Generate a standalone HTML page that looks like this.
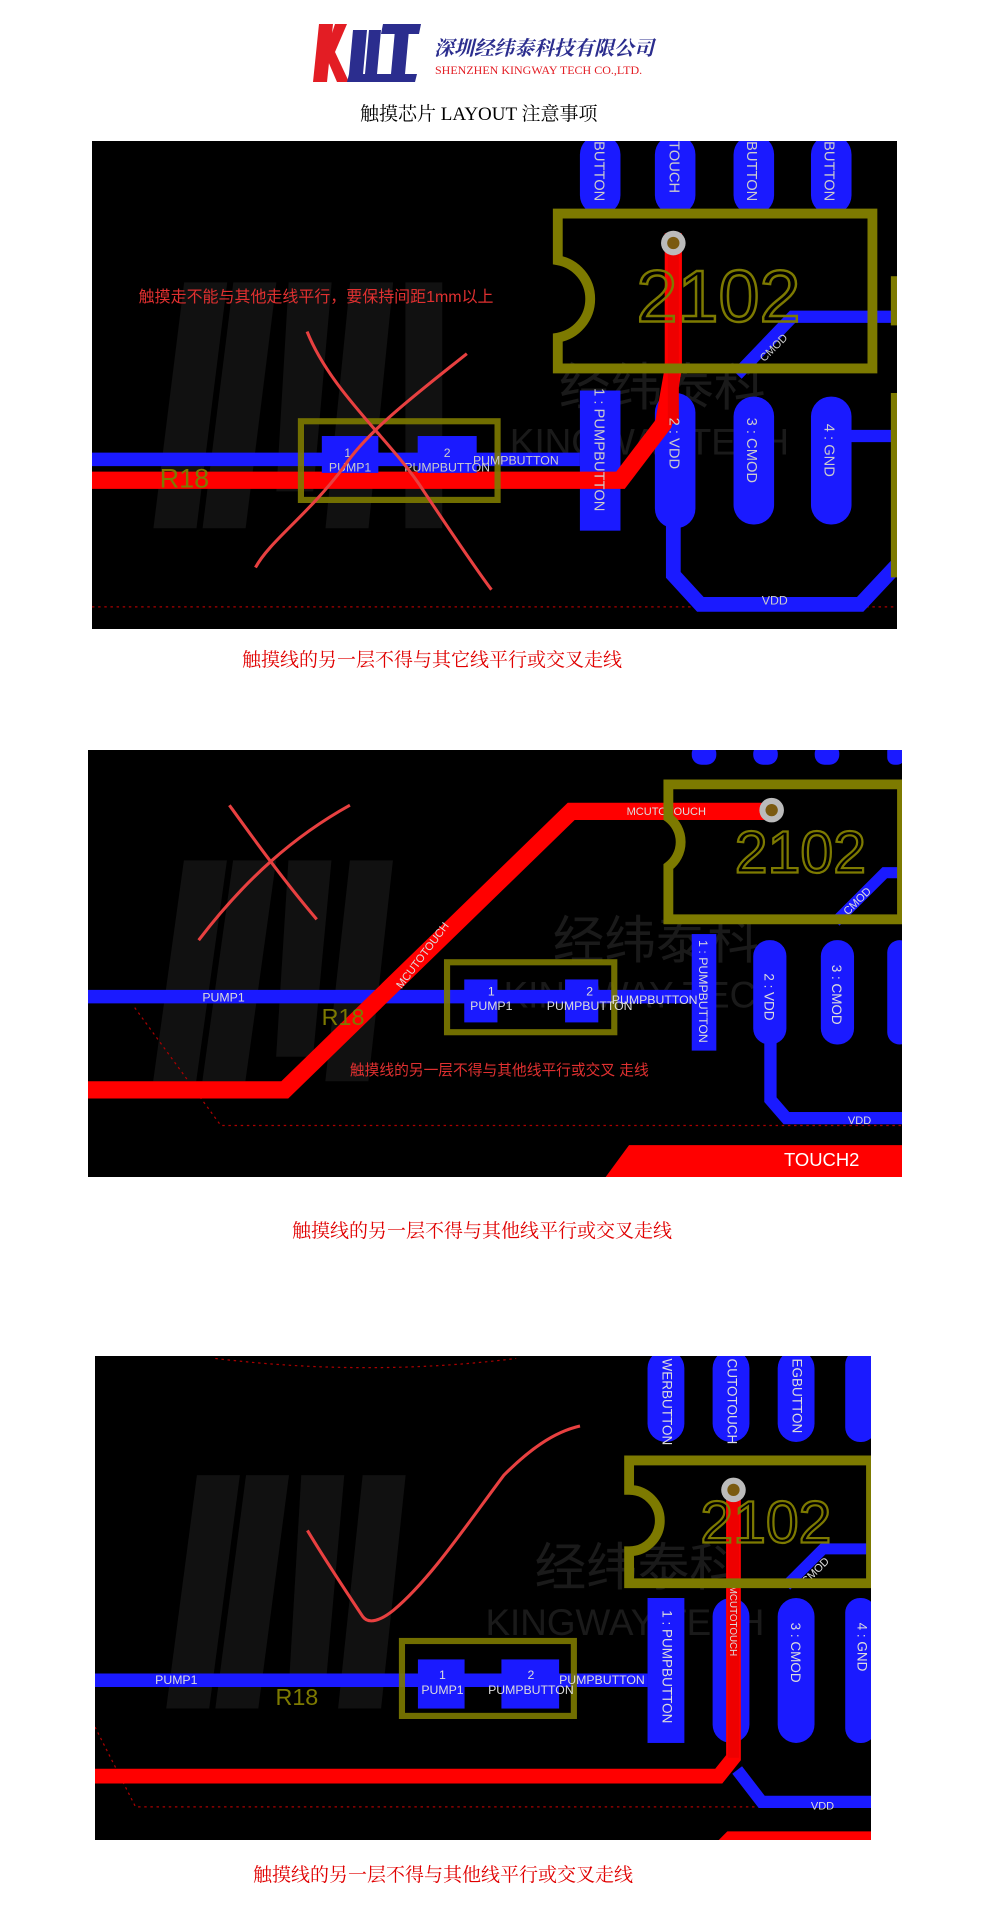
<!DOCTYPE html>
<html><head><meta charset="utf-8"><style>
html,body{margin:0;padding:0;background:#fff;}
body{width:1008px;height:1924px;position:relative;overflow:hidden;font-family:"Liberation Sans","Noto Sans CJK SC",sans-serif;}
.abs{position:absolute;}
.cap{position:absolute;color:#e00000;font-family:"Liberation Serif","Noto Serif CJK SC",serif;font-size:19px;white-space:nowrap;}
svg text{font-family:"Liberation Sans","Noto Sans CJK SC",sans-serif;}
</style></head><body>

<!-- logo -->
<svg class="abs" style="left:313px;top:22px" width="110" height="62" viewBox="0 0 110 62">
<polygon points="6,2 20,2 14,60 0,60" fill="#e31d24"/>
<polygon points="22,2 34,2 22,30 36,60 24,60 12,32" fill="#e31d24"/>
<polygon points="40,8 54,8 50,52 36,52" fill="#2b2d8e"/>
<polygon points="56,8 68,8 64,52 52,52" fill="#2b2d8e"/>
<polygon points="36,52 104,52 102,60 34,60" fill="#2b2d8e"/>
<polygon points="70,2 108,2 106,12 68,12" fill="#2b2d8e"/>
<polygon points="82,8 96,8 92,52 78,52" fill="#2b2d8e"/>
</svg>
<div class="abs" style="left:434px;top:32px;font-family:'Noto Serif CJK SC',serif;font-size:20px;color:#2b2d8e;font-style:italic;font-weight:bold;">深圳经纬泰科技有限公司</div>
<div class="abs" style="left:435px;top:63px;font-family:'Liberation Serif',serif;font-size:12px;color:#e31d24;">SHENZHEN KINGWAY TECH CO.,LTD.</div>
<div class="abs" style="left:360px;top:99px;font-family:'Liberation Serif','Noto Serif CJK SC',serif;font-size:19px;color:#000;">触摸芯片 LAYOUT 注意事项</div>

<!-- Panel 1 -->
<svg class="abs" style="left:92px;top:141px" width="805" height="488" viewBox="75 115 655 397" preserveAspectRatio="none">
<rect x="75" y="115" width="655" height="397" fill="#000"/>
<g opacity="0.12" fill="#888"><polygon points="150,230 185,230 160,430 125,430"/><polygon points="190,230 225,230 200,430 165,430"/><polygon points="235,230 270,230 255,400 225,400"/><polygon points="285,230 320,230 300,430 265,430"/><rect x="330" y="230" width="30" height="200"/></g>
<text x="455" y="330" font-size="42" fill="#fff" opacity="0.1" font-family="Noto Serif CJK SC">经纬泰科</text>
<text x="415" y="370" font-size="30" fill="#fff" opacity="0.1" font-family="Liberation Serif">KINGWAY TECH</text>
<line x1="75" y1="494" x2="730" y2="494" stroke="#a00" stroke-width="1" stroke-dasharray="2,3"/>
<g fill="#1a1aff">
<rect x="472" y="110" width="33" height="65" rx="16"/><rect x="533" y="110" width="33" height="65" rx="16"/><rect x="597" y="110" width="33" height="65" rx="16"/><rect x="660" y="110" width="33" height="65" rx="16"/>
<rect x="472" y="318" width="33" height="114"/><rect x="533" y="320" width="33" height="110" rx="16"/><rect x="597" y="323" width="33" height="104" rx="16"/><rect x="660" y="323" width="33" height="104" rx="16"/>
</g>
<polyline points="548,425 548,468 570,492 700,492 730,460" fill="none" stroke="#1a1aff" stroke-width="12"/>
<polyline points="600,305 645,258 730,258" fill="none" stroke="#1a1aff" stroke-width="10"/>
<line x1="690" y1="355" x2="730" y2="355" stroke="#1a1aff" stroke-width="10"/>
<line x1="75" y1="374" x2="472" y2="374" stroke="#1a1aff" stroke-width="11"/>
<polyline points="75,391 505,391 540,345 548,300 548,190" fill="none" stroke="#f00" stroke-width="14"/>
<line x1="548" y1="190" x2="548" y2="345" stroke="#e00" stroke-width="9"/>
<rect x="262" y="355" width="46" height="30" fill="#1a1aff"/><rect x="340" y="355" width="48" height="30" fill="#1a1aff"/>
<rect x="245" y="343" width="160" height="64" fill="none" stroke="#7d7a00" stroke-width="5" opacity="0.9"/>
<text x="130" y="397" font-size="22" fill="#7d7a00">R18</text>
<g fill="#ccc" font-size="10"><text x="283" y="372" text-anchor="middle">1</text><text x="285" y="384" text-anchor="middle">PUMP1</text><text x="364" y="372" text-anchor="middle">2</text><text x="364" y="384" text-anchor="middle">PUMPBUTTON</text><text x="385" y="378">PUMPBUTTON</text>
<text x="620" y="492">VDD</text></g>
<path d="M454,174 H710 V300 H454 V275 A32,32 0 0 0 454,212 Z" fill="none" stroke="#7d7a00" stroke-width="8"/>
<text x="518" y="262" font-size="60" fill="none" stroke="#7d7a00" stroke-width="2">2102</text>
<rect x="725" y="225" width="8" height="40" fill="#7d7a00"/><rect x="725" y="320" width="8" height="150" fill="#7d7a00"/>
<circle cx="548" cy="198" r="10" fill="#bbb"/><circle cx="548" cy="198" r="5" fill="#7a5a10"/>
<g fill="#ccc" font-size="12"><text transform="translate(484,316) rotate(90)">1 : PUMPBUTTON</text><text transform="translate(545,340) rotate(90)">2 : VDD</text><text transform="translate(608,340) rotate(90)">3 : CMOD</text><text transform="translate(671,345) rotate(90)">4 : GND</text>
<text transform="translate(484,115) rotate(90)">BUTTON</text><text transform="translate(545,115) rotate(90)">TOUCH</text><text transform="translate(608,115) rotate(90)">BUTTON</text><text transform="translate(671,115) rotate(90)">BUTTON</text>
<text transform="translate(622,295) rotate(-45)" font-size="9">CMOD</text></g>
<text x="113" y="246" font-size="13" fill="#e03030" font-family="Noto Sans CJK SC">触摸走不能与其他走线平行，要保持间距1mm以上</text>
<path d="M250,270 C270,320 320,360 345,400 C365,430 385,460 400,480" fill="none" stroke="#e84040" stroke-width="2.5"/>
<path d="M380,288 C340,320 300,350 280,380 C250,420 220,440 208,462" fill="none" stroke="#e84040" stroke-width="2.5"/>
</svg>
<div class="cap" style="left:242px;top:645px">触摸线的另一层不得与其它线平行或交叉走线</div>

<!-- Panel 2 -->
<svg class="abs" style="left:88px;top:750px" width="814" height="427" viewBox="72 610 662 348" preserveAspectRatio="none">
<rect x="72" y="610" width="662" height="348" fill="#000"/>
<g opacity="0.12" fill="#888"><polygon points="150,700 185,700 160,880 125,880"/><polygon points="190,700 225,700 200,880 165,880"/><polygon points="235,700 270,700 255,860 225,860"/><polygon points="285,700 320,700 300,880 265,880"/></g>
<text x="450" y="780" font-size="42" fill="#fff" opacity="0.1" font-family="Noto Serif CJK SC">经纬泰科</text>
<text x="410" y="820" font-size="30" fill="#fff" opacity="0.1" font-family="Liberation Serif">KINGWAY TECH</text>
<polyline points="110,820 180,916 734,916" fill="none" stroke="#a00" stroke-width="1" stroke-dasharray="2,3"/>
<g fill="#1a1aff">
<rect x="563" y="605" width="20" height="17" rx="8"/><rect x="613" y="605" width="20" height="17" rx="8"/><rect x="663" y="605" width="20" height="17" rx="8"/><rect x="722" y="605" width="14" height="17" rx="6"/>
<rect x="563" y="760" width="20" height="95"/><rect x="613" y="765" width="27" height="85" rx="13"/><rect x="668" y="765" width="27" height="85" rx="13"/><rect x="722" y="765" width="20" height="85" rx="10"/>
</g>
<polyline points="627,848 627,895 640,910 734,910" fill="none" stroke="#1a1aff" stroke-width="10"/>
<polyline points="680,750 720,710 734,710" fill="none" stroke="#1a1aff" stroke-width="9"/>
<line x1="72" y1="811" x2="563" y2="811" stroke="#1a1aff" stroke-width="11"/>
<polyline points="72,887 232,887 465,660 625,660" fill="none" stroke="#f00" stroke-width="14"/>
<polygon points="493,958 512,932 734,932 734,958" fill="#f00"/>
<text x="638" y="949" font-size="15" fill="#fff">TOUCH2</text>
<rect x="378" y="797" width="27" height="35" fill="#1a1aff"/><rect x="460" y="797" width="27" height="35" fill="#1a1aff"/>
<rect x="364" y="783" width="136" height="57" fill="none" stroke="#7d7a00" stroke-width="5" opacity="0.9"/>
<text x="262" y="834" font-size="19" fill="#7d7a00">R18</text>
<g fill="#ddd" font-size="10"><text x="165" y="815">PUMP1</text><text x="400" y="810" text-anchor="middle">1</text><text x="400" y="822" text-anchor="middle">PUMP1</text><text x="480" y="810" text-anchor="middle">2</text><text x="480" y="822" text-anchor="middle">PUMPBUTTON</text><text x="498" y="817">PUMPBUTTON</text>
<text x="510" y="663" font-size="9">MCUTOTOUCH</text><text x="690" y="915" font-size="9">VDD</text>
<text transform="translate(327,805) rotate(-53)" font-size="9">MCUTOTOUCH</text>
<text transform="translate(569,765) rotate(90)" font-size="10">1 : PUMPBUTTON</text><text transform="translate(622,792) rotate(90)" font-size="11">2 : VDD</text><text transform="translate(677,785) rotate(90)" font-size="11">3 : CMOD</text>
<text transform="translate(690,745) rotate(-45)" font-size="9">CMOD</text></g>
<path d="M544,638 H734 V748 H544 V705 A25,25 0 0 0 544,665 Z" fill="none" stroke="#7d7a00" stroke-width="8"/>
<text x="598" y="710" font-size="48" fill="none" stroke="#7d7a00" stroke-width="1.8">2102</text>
<circle cx="628" cy="659" r="10" fill="#bbb"/><circle cx="628" cy="659" r="5" fill="#7a5a10"/>
<text x="285" y="875" font-size="12" fill="#e03030" font-family="Noto Sans CJK SC">触摸线的另一层不得与其他线平行或交叉 走线</text>
<path d="M187,655 C205,680 230,715 258,748" fill="none" stroke="#e84040" stroke-width="2.5"/>
<path d="M285,655 C240,680 200,715 162,765" fill="none" stroke="#e84040" stroke-width="2.5"/>
</svg>
<div class="cap" style="left:292px;top:1216px">触摸线的另一层不得与其他线平行或交叉走线</div>

<!-- Panel 3 -->
<svg class="abs" style="left:95px;top:1356px" width="776" height="484" viewBox="77 1103 632 394" preserveAspectRatio="none">
<rect x="77" y="1103" width="632" height="394" fill="#000"/>
<g opacity="0.12" fill="#888"><polygon points="160,1200 195,1200 170,1390 135,1390"/><polygon points="200,1200 235,1200 210,1390 175,1390"/><polygon points="245,1200 280,1200 265,1370 235,1370"/><polygon points="295,1200 330,1200 310,1390 275,1390"/></g>
<text x="435" y="1290" font-size="42" fill="#fff" opacity="0.1" font-family="Noto Serif CJK SC">经纬泰科</text>
<text x="395" y="1330" font-size="30" fill="#fff" opacity="0.1" font-family="Liberation Serif">KINGWAY TECH</text>
<path d="M175,1105 Q300,1120 420,1105" fill="none" stroke="#a00" stroke-width="1" stroke-dasharray="2,3"/>
<polyline points="77,1405 110,1470 709,1470" fill="none" stroke="#a00" stroke-width="1" stroke-dasharray="2,3"/>
<g fill="#1a1aff">
<rect x="527" y="1098" width="30" height="75" rx="15"/><rect x="580" y="1098" width="30" height="75" rx="15"/><rect x="633" y="1098" width="30" height="75" rx="15"/><rect x="688" y="1098" width="25" height="75" rx="12"/>
<rect x="527" y="1300" width="30" height="118"/><rect x="580" y="1300" width="30" height="118" rx="15"/><rect x="633" y="1300" width="30" height="118" rx="15"/><rect x="688" y="1300" width="25" height="118" rx="12"/>
</g>
<polyline points="600,1440 620,1466 709,1466" fill="none" stroke="#1a1aff" stroke-width="10"/>
<polyline points="640,1290 670,1260 709,1260" fill="none" stroke="#1a1aff" stroke-width="9"/>
<line x1="77" y1="1367" x2="527" y2="1367" stroke="#1a1aff" stroke-width="11"/>
<polyline points="77,1445 585,1445 597,1430 597,1210" fill="none" stroke="#f00" stroke-width="12"/>
<line x1="597" y1="1215" x2="597" y2="1430" stroke="#e00" stroke-width="9"/>
<polygon points="585,1497 592,1490 709,1490 709,1497" fill="#f00"/>
<rect x="340" y="1350" width="38" height="40" fill="#1a1aff"/><rect x="408" y="1350" width="47" height="40" fill="#1a1aff"/>
<rect x="327" y="1335" width="140" height="61" fill="none" stroke="#7d7a00" stroke-width="5" opacity="0.9"/>
<text x="224" y="1387" font-size="19" fill="#7d7a00">R18</text>
<g fill="#ddd" font-size="10"><text x="126" y="1370">PUMP1</text><text x="360" y="1366" text-anchor="middle">1</text><text x="360" y="1378" text-anchor="middle">PUMP1</text><text x="432" y="1366" text-anchor="middle">2</text><text x="432" y="1378" text-anchor="middle">PUMPBUTTON</text><text x="455" y="1370">PUMPBUTTON</text>
<text x="660" y="1472" font-size="9">VDD</text>
<text transform="translate(539,1310) rotate(90)" font-size="11">1 : PUMPBUTTON</text><text transform="translate(644,1320) rotate(90)" font-size="11">3 : CMOD</text><text transform="translate(698,1320) rotate(90)" font-size="11">4 : GND</text>
<text transform="translate(594,1290) rotate(90)" font-size="8">MCUTOTOUCH</text>
<text transform="translate(539,1105) rotate(90)" font-size="11">WERBUTTON</text><text transform="translate(592,1105) rotate(90)" font-size="11">CUTOTOUCH</text><text transform="translate(645,1105) rotate(90)" font-size="11">EGBUTTON</text>
<text transform="translate(656,1290) rotate(-45)" font-size="9">CMOD</text></g>
<path d="M512,1188 H709 V1288 H512 V1262 A25,25 0 0 0 512,1212 Z" fill="none" stroke="#7d7a00" stroke-width="8"/>
<text x="570" y="1255" font-size="48" fill="none" stroke="#7d7a00" stroke-width="1.8">2102</text>
<circle cx="597" cy="1212" r="10" fill="#bbb"/><circle cx="597" cy="1212" r="5" fill="#7a5a10"/>
<path d="M250,1245 C265,1270 285,1300 295,1315 C300,1322 310,1318 320,1310 C350,1285 380,1240 410,1200 C430,1180 450,1165 472,1160" fill="none" stroke="#e84040" stroke-width="2.5"/>
</svg>
<div class="cap" style="left:253px;top:1860px">触摸线的另一层不得与其他线平行或交叉走线</div>

</body></html>
